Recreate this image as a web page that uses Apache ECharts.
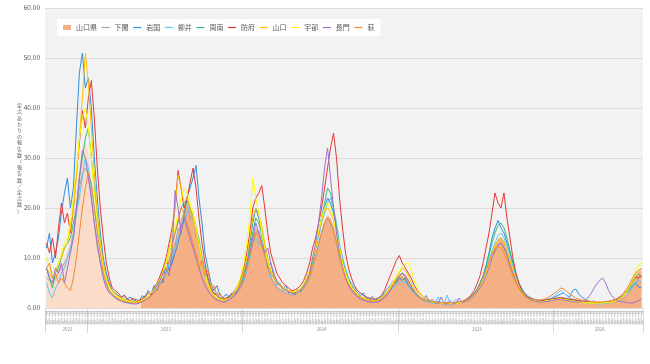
<!DOCTYPE html>
<html><head><meta charset="utf-8">
<script src="https://cdn.jsdelivr.net/npm/echarts@6/dist/echarts.min.js"></script>
<style>html,body{margin:0;padding:0;background:#fff}#c{width:650px;height:364px}</style>
</head><body><div id="c"></div>
<script>
// Year groups on the lower axis
const yearNames = ['2022','2023','2024','2025','2026'];
const yearFirstWeek = [39,1,1,1,1];
const yearLastWeek = [52,52,52,52,30];
const yTicks = [0,10,20,30,40,50,60];
const seriesNames = ['山口県','下関','岩国','柳井','周南','防府','山口','宇部','長門','萩'];
const seriesColors = ['#f4b084','#a6a6a6','#2f8ee0','#5ac8fa','#3dbb74','#e53935','#ffc000','#ffff00','#a070d0','#f08a3c'];
const estimatedUntil = 31.5; // index where pale (estimated) area ends

const yamaguchiPref = [
7.5,6.5,6,6.5,7.5,8.5,10,11.5,14,18,
23,28,32,33.5,31,25,19,14,10,7,
5,3.8,3,2.4,2,1.7,1.5,1.4,1.3,1.2,
1.1,1.1,1.5,1.8,2.2,2.6,3.2,4,5,6.2,
7.8,9.5,11.5,13.5,15.5,18,19.5,20.5,20,19,
17,14,11,8,5.5,3.8,2.8,2.2,1.8,1.6,
1.6,1.8,2.2,2.8,3.5,4.5,6,8.5,11.5,14.5,
16,15.5,13.5,11,8.5,6.5,5.5,4.5,4,3.5,
3.2,3,2.8,2.8,3,3.4,4,5,6.5,8.5,
10.5,13,15.5,17.5,18.5,18,16.5,14,11,8.5,
6.5,5,4,3.2,2.6,2.2,1.9,1.7,1.5,1.4,
1.4,1.5,1.8,2.3,3,3.8,4.6,5.5,6.2,6.5,
6,5,4,3.2,2.5,2,1.6,1.4,1.3,1.2,
1.1,1,1,1,0.9,0.9,0.9,1,1,1.1,
1.3,1.5,1.9,2.4,3.2,4.2,5.5,7.2,9,11,
12.5,13.8,14.2,13.5,12,10,8,6,4.5,3.4,
2.6,2.1,1.8,1.6,1.5,1.4,1.4,1.5,1.6,1.7,
1.8,1.9,1.9,1.8,1.7,1.6,1.5,1.4,1.3,1.2,
1.2,1.1,1.1,1.1,1,1,1,1.1,1.1,1.2,
1.3,1.5,1.8,2.2,2.8,3.6,4.6,6,7.2,7.5];

const shimonoseki = [
6,5.5,5,6,7,8,9,10,12,15,
19,24,27,28,27,22,17,12,9,6,
4.5,3.5,2.8,2.2,2,1.6,1.5,1.3,1.2,1.1,
1,1.2,1.4,1.6,2,2.5,3,3.8,4.6,5.8,
6.5,9.5,8.8,12.5,16,14.5,19.5,22,17.5,19,
14,13.5,9,8,5,4.2,2.6,3.1,1.7,2.2,
1.5,1.7,2,2.6,3.2,4,5.5,7.5,10,13,
15,15.5,13,10.5,8,6,5,4.2,3.6,3.3,
3,2.8,2.6,2.7,2.9,3.2,3.8,4.8,6,8,
10,12.5,15,17,18,17,15.5,13,10,8,
6,4.6,3.7,3,2.4,2,1.8,1.6,1.4,1.3,
1.3,1.4,1.7,2.1,2.8,3.5,4.3,5,5.8,6,
5.6,4.6,3.7,3,2.3,1.9,1.5,1.3,1.2,1.1,
1,0.9,0.9,0.9,0.8,0.8,0.8,0.9,0.9,1,
1.2,1.4,1.7,2.2,3,3.9,5,6.5,8.2,10,
11,12.5,13,12.2,11,9,7.2,5.5,4,3,
2.3,1.9,1.6,1.5,1.4,1.3,1.3,1.4,1.5,1.6,
1.7,1.7,1.8,1.7,1.6,1.5,1.4,1.3,1.2,1.1,
1.1,1,1,1,0.9,0.9,0.9,1,1,1.1,
1.2,1.4,1.6,2,2.5,3.2,4,5,6,6.5];

const iwakuni = [
12,15,9,11,14,19,23,26,20,24,
36,47,51,44,46,40,30,22,15,10,
7,5,3.5,3,2.5,2,2.6,1.8,2.2,1.5,
1.8,1.2,2.5,2,3.5,2.8,4.5,3.5,6,5,
10,7.5,9,11,13,16,18,22,24,26,
28.5,22,17,11,8,5,3.5,4.5,2.5,2,
2.8,2,3,2.5,4,5.5,7,9,13,17,
20,18,15,12,8,9,6.5,5,4.5,3.8,
4.5,3,3.5,2.6,3.8,3.2,4.8,6,7.5,10,
12,15,18,20,22,21,19,16,12,10,
7.5,6,4.5,3.8,3,2.5,3,2,1.8,2.3,
1.6,2,2.2,3,3.8,4.5,5.5,5,6,5.5,
6,4.5,4,3,2.5,2.2,1.8,1.5,1.6,1.2,
1,1.3,1.1,0.9,1.2,0.8,1,1.1,0.9,1.3,
1.5,1.8,2.3,3,3.8,5,6.5,8.5,11,14,
16,17.5,16,15,13,11,9,6.5,5,3.8,
2.8,2.2,2,1.7,1.6,1.4,1.5,1.6,1.8,2,
2.2,2.5,2.8,3,2.5,2.2,3.5,3.8,2.8,2.2,
1.8,1.5,1.2,1.4,1,1.2,0.9,1.1,1.2,1.4,
1.6,1.8,2.2,2.6,3.2,3.8,4.5,5,4.2,4];

const yanai = [
5,3,2,4,5,7,8,10,12,14,
19,22,26,30,28,24,20,16,12,8,
5,3.5,3,2,1.8,1.5,1,1.2,0.8,1,
0.8,1,1.2,1.5,2,2.5,3,4,5,6,
7,9,10,12,14,16,17,19,20,18,
16,14,10,8,6,4,3,2.5,2,1.5,
1.5,2.6,2.1,3.4,4,5.8,5.2,8,10,13,
14,12.5,14.5,11,9.5,6,7,4.5,5.2,3.5,
3.5,3.2,3,3,3.3,3.8,4.5,5.5,7,9,
12,14,17,19,21,22,20,17,13,10,
8,6,5,4,3.5,3,2.5,2,1.8,1.6,
1.5,1.6,2,2.5,3,3.5,4,4.5,5,5.5,
5,4.5,3.5,3,2.5,2,1.5,1.3,1.2,1,
0.9,2.2,0.8,0.7,2.6,0.8,0.9,1.8,1,1.2,
1.4,1.8,2.2,2.8,3.5,4.5,6,7.5,9.5,11.5,
13,14.5,15,14,12.5,10.5,8.5,6.5,5,3.8,
3,2.5,2,1.8,1.6,1.5,1.5,1.6,1.8,2,
2.5,3,3.5,3,2.5,2,1.8,1.6,1.4,1.2,
1.1,1,0.9,0.9,0.8,0.8,0.9,0.9,1,1.1,
1.3,1.5,1.9,2.4,3,3.6,4.2,5,5.5,5.2];

const shunan = [
8,6,4,7,8,10,12,13,14,17,
20,26,30,34,36,30,24,18,13,9,
6,4.5,3.5,3,2.5,2,1.8,1.6,1.4,1.3,
1.2,1.3,1.6,2,2.4,3,3.8,4.8,6,7.5,
9,11,13,15,17,20,21,22,20,18,
16,13,10,7,5,3.5,2.5,2,1.8,1.6,
1.7,2,2.4,3,3.8,5,6.5,9,12,15,
18,17,14.5,12,9,7,6,5,4.5,4,
3.6,3.3,3,3,3.2,3.6,4.2,5.5,7,9.5,
12,15,18,21,24,23,20,16,12,9,
7,5.5,4.2,3.4,2.8,2.3,2,1.8,1.6,1.5,
1.5,1.6,1.9,2.4,3.1,4,4.8,5.8,6.5,7,
6.5,5.5,4.3,3.4,2.7,2.1,1.7,1.5,1.3,1.2,
1.1,1,1,1,0.9,0.9,1,1,1.1,1.2,
1.4,1.7,2.1,2.7,3.6,4.8,6.3,8.2,10.5,13,
15,16.5,17,16,14,11.5,9,6.8,5,3.7,
2.8,2.2,1.9,1.7,1.6,1.5,1.5,1.6,1.7,1.8,
1.9,2,2,1.9,1.8,1.7,1.6,1.5,1.4,1.3,
1.3,1.2,1.2,1.2,1.1,1.1,1.1,1.2,1.2,1.3,
1.4,1.6,2,2.5,3.1,4,5,6.2,6.8,6];

const hofu = [
13,11,14,10,16,21,17,19,15,20,
27,33,39.5,36,42,45.5,38,28,20,14,
9,6,4,3.5,3,2.2,2.5,1.8,1.5,2,
1.3,1.6,1.8,2.5,3,2.6,4,5,6.5,8,
10,13,16,20,27.5,24,20,22,25,28,
24,18,13,9,6,4,3,2.5,2,1.8,
2,2.2,2.8,3.5,4.5,6,8,11,15,20,
22,23,24.5,20,15,11,9,7,6,5,
4.5,4,3.5,3.6,4,4.5,5.5,7,9,12,
14,17,20,24,28,32,35,30,22,16,
11,8,6,4.5,3.5,3,2.5,2.2,2,1.8,
1.8,2,2.5,3.5,5,6.5,8,9.5,10.5,9,
8,7,6,4.5,3.5,2.8,2.2,1.8,1.5,1.3,
1.2,1.1,1,1,1,0.9,1,1.1,1.2,1.3,
1.6,2,2.6,3.5,4.8,6.5,9,12,15,19,
23,21,20,23,18,14,10,7,5,3.5,
2.7,2.2,1.9,1.7,1.6,1.5,1.5,1.6,1.7,1.8,
1.9,2,2.1,2,1.9,1.8,1.7,1.6,1.5,1.4,
1.3,1.3,1.2,1.2,1.1,1.1,1.1,1.2,1.2,1.3,
1.5,1.8,2.2,2.8,3.5,4.5,5.5,6.2,6,6.5];

const yamaguchiCity = [
8,7,6,7,9,10,12,13,16,20,
26,34,42,51,45,36,27,19,13,9,
6,4.5,3.5,2.8,2.3,2,1.7,1.5,1.4,1.3,
1.2,1.3,1.6,2,2.5,3,3.8,4.8,6,7.5,
9.5,12,15,20,26.5,24,21,22,20,18,
15,12,9,6.5,4.5,3.2,2.4,2,1.7,1.5,
1.6,1.9,2.4,3,4,5.5,7.5,10,14,18,
20,19,16.5,13,10,7.5,6.5,5.5,4.8,4.2,
3.8,3.5,3.3,3.3,3.5,4,4.8,6,7.5,10,
12,15,17.5,19.5,20,19,17.5,15,12,9,
7,5.5,4.3,3.5,2.8,2.3,2,1.8,1.6,1.5,
1.5,1.6,2,2.5,3.2,4,5,6,7,8,
7.5,6.5,5,3.8,2.9,2.2,1.8,1.5,1.4,1.2,
1.1,1,1,1,0.9,0.9,0.9,1,1,1.1,
1.3,1.6,2,2.5,3.3,4.3,5.6,7.2,9,11,
12.5,13.5,14,13,11.5,9.5,7.5,5.7,4.2,3.2,
2.5,2,1.7,1.5,1.4,1.3,1.3,1.4,1.5,1.6,
1.7,1.8,1.8,1.7,1.6,1.5,1.4,1.3,1.2,1.2,
1.1,1.1,1,1,1,1,1,1.1,1.1,1.2,
1.3,1.5,1.9,2.4,3.2,4.2,5.3,6.5,7.5,8];

const ube = [
10,8,7,8,9,11,13,14,17,22,
28,34,38,40,36,30,23,17,12,8,
5.5,4,3,2.5,2,1.8,1.6,1.4,1.3,1.2,
1.1,1.2,1.5,1.9,2.4,3,3.6,4.5,5.6,7,
9,11,13.5,16,19,22,24,23,21,19,
16,13,9.5,7,4.8,3.4,2.6,2.1,1.8,1.6,
1.7,2,2.5,3.3,4.5,6.5,9,13,18,26,
22,19,15,12,9,7,6,5,4.5,4,
3.6,3.4,3.2,3.2,3.5,4,4.8,6,7.5,10,
12.5,15.5,18,20,21,20,18,15,12,9,
7,5.4,4.2,3.4,2.7,2.2,1.9,1.7,1.5,1.4,
1.4,1.6,2,2.6,3.4,4.3,5.4,6.5,7.5,8.2,
8.8,9,7.5,5.5,4,3,2.2,1.8,1.5,1.3,
1.2,1.1,1,1,1,0.9,0.9,1,1,1.1,
1.3,1.6,1.9,2.4,3.1,4,5.2,6.6,8.2,10,
11.5,12.3,12,11,9.8,8.2,6.5,5,3.8,2.9,
2.3,1.9,1.6,1.5,1.4,1.3,1.3,1.4,1.5,1.6,
1.7,1.7,1.8,1.7,1.6,1.5,1.4,1.3,1.2,1.2,
1.1,1,1,1,1,1,1,1.1,1.1,1.2,
1.4,1.6,2,2.6,3.4,4.5,5.8,7.2,8.5,9];

const nagato = [
8,6,5,8,7,9,5,8,11,14,
20,26,31.5,30,26,22,17,13,9,6,
4,3,2.5,2,1.6,1.4,1.2,1,1,0.8,
0.8,1,1.3,1.6,2,2.5,3.5,4.5,5.5,7,
8,6.5,11,23.5,20,15,18,16,14,12,
10,8,6,4.5,3.5,2.6,2,1.6,1.4,1.2,
1.3,1.6,2,2.6,3.4,4.5,6,8.5,11,14,
17,15,13,11,12,9,7,5.5,4.5,4,
3.5,3.2,3,3,3.2,3.6,4.2,5.5,7,10,
13,17,22,28,32,26,20,15,11,8,
6,4.5,3.5,2.8,2.2,1.8,1.5,1.3,1.2,1.1,
1.1,1.2,1.5,2,2.7,3.5,4.5,5.5,6.5,7,
6.5,5.5,4.3,3.3,2.6,2,1.6,2.5,1.2,1.8,
1.1,0.9,2.2,0.9,0.8,1.5,0.9,1,2,1.1,
1.3,1.6,2,2.5,3.2,4,5,6.5,8,10,
11.5,12.5,13,12,10.5,8.5,6.8,5.2,4,3,
2.3,1.9,1.6,1.4,1.3,1.2,1.2,1.3,1.4,1.5,
1.6,1.7,1.7,1.6,1.5,1.4,1.3,1.2,1.2,1.3,
1.5,2,2.8,3.8,4.8,5.5,6,5,3.5,2.5,
1.8,1.5,1.3,1.2,1.1,1,1,1.2,1.5,1.8];

const hagi = [
8,9,6,7,5,6,5,4,3.5,6,
10,15,20,24,27,25,20,15,11,7,
5,3.5,2.8,2.2,1.8,1.5,1.3,1.2,1.1,1,
1,1.1,1.3,1.6,2,2.4,3,3.8,4.8,6,
7.5,9.5,12,15,17.5,20,19,17,15,13,
11,8,9.5,6.5,7.5,4,4.5,2.4,3,1.8,
1.8,2,2.4,3,3.8,4.8,6,8,10.5,13,
15,14.5,12.5,10.5,8.5,7,6,5,4.4,4,
3.6,3.3,3.1,3,3.2,3.6,4.2,5.2,6.5,8.5,
10.5,13,15,17,18,17,15.5,13,10.5,8,
6.2,4.8,3.8,3.1,2.5,2.1,1.8,1.6,1.5,1.4,
1.4,1.5,1.8,2.3,3,3.8,4.6,5.5,6.2,6.8,
6.2,5.2,4.2,3.3,2.6,2,1.7,1.5,1.4,1.3,
1.2,1.1,1.1,1.1,1,1,1,1.1,1.2,1.3,
1.5,1.8,2.2,2.8,3.6,4.6,6,7.6,9.2,10.8,
11.8,12.3,12,11,9.6,8,6.4,5,3.9,3,
2.4,2,1.8,1.7,1.6,1.6,1.7,1.9,2.2,2.6,
3,3.5,4,3.8,3.3,2.8,2.4,2,1.8,1.6,
1.5,1.4,1.3,1.3,1.2,1.2,1.2,1.3,1.4,1.5,
1.7,2,2.4,3,3.8,4.8,6,7,7.5,7.8];

const allData = [yamaguchiPref, shimonoseki, iwakuni, yanai, shunan, hofu, yamaguchiCity, ube, nagato, hagi];

// categories: one per week
const categories = [];
const yearStartIdx = [];
const yearCenterIdx = [];
yearNames.forEach((y, k) => {
  yearStartIdx.push(categories.length);
  const n = yearLastWeek[k] - yearFirstWeek[k] + 1;
  yearCenterIdx.push(categories.length + Math.floor(n / 2));
  for (let w = yearFirstWeek[k]; w <= yearLastWeek[k]; w++) categories.push(y + '-' + w);
});
const N = categories.length;

const FONT = '"Noto Sans CJK JP", "Noto Sans", sans-serif';
const chart = echarts.init(document.getElementById('c'), null, {renderer: 'canvas'});
const frac = estimatedUntil / (N - 1);

const series = seriesNames.map((name, k) => {
  const s = {
    name, type: 'line', data: allData[k], symbol: 'none', color: seriesColors[k],
    lineStyle: {width: 1, color: seriesColors[k]}, animation: false, xAxisIndex: 0
  };
  if (k === 0) {
    s.lineStyle = {width: 0, opacity: 0};
    s.areaStyle = {
      opacity: 1,
      color: new echarts.graphic.LinearGradient(0, 0, 1, 0, [
        {offset: 0, color: '#fbdcc8'}, {offset: frac, color: '#fbdcc8'},
        {offset: frac, color: '#f4b084'}, {offset: 1, color: '#f4b084'}
      ])
    };
    s.z = 1;
  } else {
    s.z = 2 + k;
  }
  return s;
});

chart.setOption({
  backgroundColor: '#ffffff',
  textStyle: {fontFamily: FONT},
  grid: {left: 45, right: 7, top: 8, bottom: 56, show: true, backgroundColor: '#f2f2f2', borderWidth: 0},
  legend: {
    left: 57, top: 19, backgroundColor: '#ffffff', padding: [5, 6], itemGap: 4,
    itemWidth: 8, itemHeight: 5,
    textStyle: {fontSize: 7, color: '#595959', fontFamily: FONT},
    data: seriesNames.map((n, k) => k === 0
      ? {name: n, icon: 'rect'}
      : {name: n, itemStyle: {opacity: 0}, lineStyle: {width: 1.2, color: seriesColors[k]}})
  },
  xAxis: [{
    type: 'category', data: categories, boundaryGap: true,
    axisLine: {show: true, lineStyle: {color: '#d9d9d9'}},
    axisTick: {show: false},
    axisLabel: {
      interval: 0, fontSize: 3.2, lineHeight: 3.4, color: '#a0a0a0', margin: 3,
      formatter: v => ('第' + v.split('-')[1].padStart(2, '0') + '週').split('').join('\n')
    },
    splitLine: {show: false}
  }, {
    type: 'category', data: categories, boundaryGap: true, position: 'bottom',
    axisLine: {show: false},
    axisTick: {show: true, length: 25, lineStyle: {color: '#d9d9d9'},
      interval: (idx) => yearStartIdx.includes(idx)},
    axisLabel: {
      interval: (idx) => yearCenterIdx.includes(idx),
      formatter: v => v.split('-')[0], fontSize: 4.5, color: '#8c8c8c', margin: 19
    },
    splitLine: {show: false}
  }],
  yAxis: {
    type: 'value', min: yTicks[0], max: yTicks[yTicks.length - 1], interval: 10,
    name: '定点あたりの報告数（報告数／定点数）'.split('').join('\n'),
    nameLocation: 'middle', nameGap: 23, nameRotate: 0, nameMoveOverlap: false,
    nameTextStyle: {fontSize: 5, lineHeight: 6.2, color: '#595959', fontFamily: FONT},
    axisLine: {show: false}, axisTick: {show: false},
    axisLabel: {fontSize: 6.5, color: '#595959', margin: 5, formatter: v => v.toFixed(2)},
    splitLine: {lineStyle: {color: '#dcdcdc', width: 1}}
  },
  series
});
</script></body></html>
